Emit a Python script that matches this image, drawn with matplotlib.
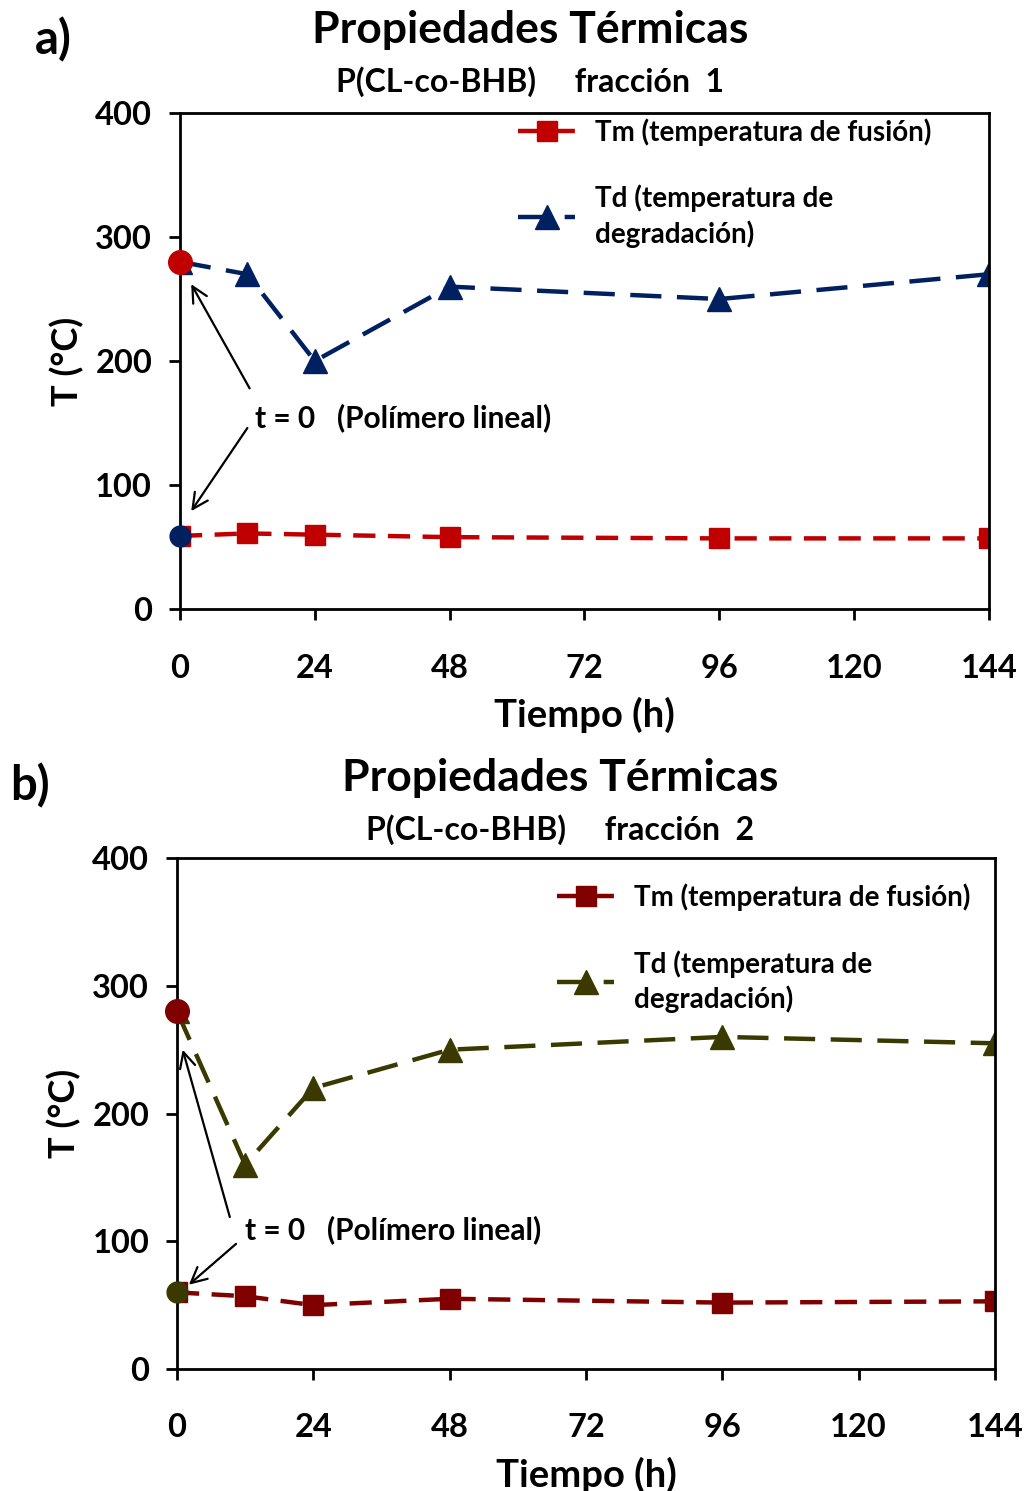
import matplotlib.pyplot as plt

plt.rcParams['font.family'] = ['Lato', 'DejaVu Sans']
plt.rcParams['font.weight'] = 'bold'

# tiempo de degradacion (h)
tiempo = [0, 12, 24, 48, 96, 144]
xticks = [0, 24, 48, 72, 96, 120, 144]
yticks = [0, 100, 200, 300, 400]

# fraccion 1
td_1 = [280, 270, 200, 260, 250, 270]
tm_1 = [59, 61, 60, 58, 57, 57]
# fraccion 2
td_2 = [280, 160, 220, 250, 260, 255]
tm_2 = [60, 57, 50, 55, 52, 53]

paneles = [
    dict(letra='a)', frac='1', td=td_1, tm=tm_1,
         c_td='#002060', c_tm='#C00000',
         pos=[0.1754, 0.5915, 0.7885, 0.3327], leg=(0.418, 0.99),
         tit_y=0.980, sub_y=0.945, tit_x=0.517, let_xy=(0.034, 0.973),
         txt=(13.3, 154), flechas=[((12.4, 178), (2.0, 262)), ((12.0, 146), (2.0, 79))]),
    dict(letra='b)', frac='2', td=td_2, tm=tm_2,
         c_td='#3A3A00', c_tm='#800000',
         pos=[0.1725, 0.0818, 0.7973, 0.3427], leg=(0.465, 0.95),
         tit_y=0.478, sub_y=0.4433, tit_x=0.546, let_xy=(0.0098, 0.4728),
         txt=(12.0, 109), flechas=[((9.3, 119), (1.0, 250)), ((10.4, 98), (2.1, 66))]),
]

fig = plt.figure(figsize=(10.26, 14.91), dpi=100)

for p in paneles:
    ax = fig.add_axes(p['pos'])
    ax.plot(tiempo, p['tm'], color=p['c_tm'], lw=3.2, dashes=(5, 2.8),
            marker='s', ms=14, label='Tm (temperatura de fusión)')
    ax.plot(tiempo, p['td'], color=p['c_td'], lw=3.2, dashes=(7, 3.5),
            marker='^', ms=17, label='Td (temperatura de\ndegradación)')
    # t = 0: polimero lineal (colores cruzados)
    ax.plot(tiempo[0], p['td'][0], 'o', color=p['c_tm'], ms=17, clip_on=False, zorder=5)
    ax.plot(tiempo[0], p['tm'][0], 'o', color=p['c_td'], ms=15, clip_on=False, zorder=5)

    ax.text(p['txt'][0], p['txt'][1], 't = 0   (Polímero lineal)', fontsize=21.5,
            va='center', ha='left', fontweight='bold')
    for ini, fin in p['flechas']:
        ax.annotate('', xy=fin, xytext=ini,
                    arrowprops=dict(arrowstyle='->', lw=1.6, color='black',
                                    mutation_scale=28, shrinkA=0, shrinkB=0))

    ax.set_xlim(0, 144)
    ax.set_ylim(0, 400)
    ax.set_xticks(xticks)
    ax.set_yticks(yticks)
    ax.tick_params(axis='both', labelsize=23.5, width=2, length=8, direction='out')
    ax.tick_params(axis='x', pad=24)
    ax.tick_params(axis='y', pad=12)
    for s in ax.spines.values():
        s.set_linewidth(2)
    ax.set_xlabel('Tiempo (h)', fontsize=27.5, fontweight='bold', labelpad=10)
    ax.set_ylabel('T (°C)', fontsize=26, fontweight='bold', labelpad=8)

    leg = ax.legend(loc='upper left', bbox_to_anchor=p['leg'], frameon=False,
                    fontsize=20, handlelength=2.05, labelspacing=1.4,
                    borderaxespad=0, borderpad=0, handletextpad=0.72)
    for t in leg.get_texts():
        t.set_linespacing(1.35)

    fig.text(p['tit_x'], p['tit_y'], 'Propiedades Térmicas', fontsize=32,
             ha='center', va='center', fontweight='bold')
    fig.text(p['tit_x'], p['sub_y'], 'P(CL-co-BHB)     fracción  ' + p['frac'],
             fontsize=23, ha='center', va='center', fontweight='bold')
    fig.text(p['let_xy'][0], p['let_xy'][1], p['letra'], fontsize=34,
             ha='left', va='center', fontweight='bold')

fig.savefig('out.png', dpi=100)
